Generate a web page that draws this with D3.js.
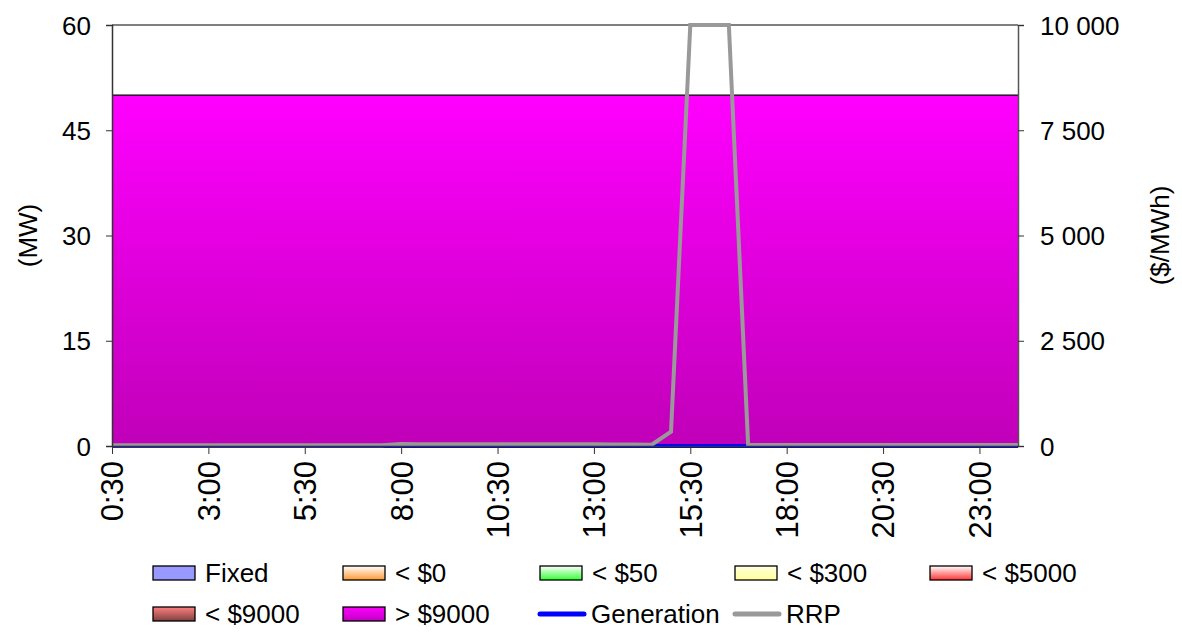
<!DOCTYPE html>
<html><head><meta charset="utf-8">
<script src="https://cdn.jsdelivr.net/npm/d3@7"></script>
<style>
body{margin:0;background:#fff;}
svg{display:block;font-family:"Liberation Sans",Arial,sans-serif;}
</style></head>
<body><svg id="c" width="1182" height="633"></svg>
<script>
const times = ["0:30","1:00","1:30","2:00","2:30","3:00","3:30","4:00","4:30","5:00","5:30","6:00","6:30","7:00","7:30","8:00","8:30","9:00","9:30","10:00","10:30","11:00","11:30","12:00","12:30","13:00","13:30","14:00","14:30","15:00","15:30","16:00","16:30","17:00","17:30","18:00","18:30","19:00","19:30","20:00","20:30","21:00","21:30","22:00","22:30","23:00","23:30","0:00"];
const above9000 = [50,50,50,50,50,50,50,50,50,50,50,50,50,50,50,50,50,50,50,50,50,50,50,50,50,50,50,50,50,50,50,50,50,50,50,50,50,50,50,50,50,50,50,50,50,50,50,50];
const generation = [0,0,0,0,0,0,0,0,0,0,0,0,0,0,0,0,0,0,0,0,0,0,0,0,0,0,0,0,0,0,0,0,0,0,0,0,0,0,0,0,0,0,0,0,0,0,0,0];
const rrp = [15,15,15,15,15,15,15,15,15,15,15,15,15,15,18,45,42,42,40,40,40,40,40,40,40,40,38,35,30,340,10000,10000,10000,25,25,25,25,25,25,25,25,25,25,25,25,25,25,25];
const mwTicks = [0,15,30,45,60];
const priceTicks = [0,2500,5000,7500,10000];
const xTickLabels = ["0:30","3:00","5:30","8:00","10:30","13:00","15:30","18:00","20:30","23:00"];
const legendItems = [
  {name:"Fixed", type:"rect", top:"#9999FF", bottom:"#9999FF"},
  {name:"< $0", type:"rect", top:"#FFFFFF", bottom:"#FF9933"},
  {name:"< $50", type:"rect", top:"#FFFFFF", bottom:"#33FF33"},
  {name:"< $300", type:"rect", top:"#FFFFE0", bottom:"#FFFF99"},
  {name:"< $5000", type:"rect", top:"#FFFFFF", bottom:"#FF3333"},
  {name:"< $9000", type:"rect", top:"#FF8080", bottom:"#804040"},
  {name:"> $9000", type:"rect", top:"#FF00FF", bottom:"#C000C0"},
  {name:"Generation", type:"line", color:"#0000FF"},
  {name:"RRP", type:"line", color:"#999999"}
];

const svg = d3.select("#c");
const L=112, R=1018, T=25, B=446;
const x = d3.scalePoint().domain(times).range([L,R]);
const yL = d3.scaleLinear().domain([0,60]).range([B,T]);
const yR = d3.scaleLinear().domain([0,10000]).range([B,T]);
const fmt = d3.formatLocale({decimal:".",thousands:" ",grouping:[3],currency:["$",""]}).format(",");
const FS = 26, FSX = 31;

const defs = svg.append("defs");
const mainGrad = defs.append("linearGradient").attr("id","gMain").attr("gradientUnits","userSpaceOnUse")
  .attr("x1",0).attr("x2",0).attr("y1",yL(50)).attr("y2",B);
mainGrad.append("stop").attr("offset","0").attr("stop-color","#FF00FF");
mainGrad.append("stop").attr("offset","1").attr("stop-color","#C000B8");
legendItems.forEach((d,i)=>{
  if(d.type!=="rect") return;
  const g = defs.append("linearGradient").attr("id","lg"+i).attr("x1",0).attr("x2",0).attr("y1",0).attr("y2",1);
  g.append("stop").attr("offset","0").attr("stop-color",d.top);
  g.append("stop").attr("offset","1").attr("stop-color",d.bottom);
});

// area
const area = d3.area().x((d,i)=>x(times[i])).y0(B).y1(d=>yL(d));
svg.append("path").datum(above9000).attr("d",area).attr("fill","url(#gMain)");
svg.append("path").datum(above9000).attr("d",d3.line().x((d,i)=>x(times[i])).y(d=>yL(d)))
  .attr("fill","none").attr("stroke","#000").attr("stroke-width",1.2);

// frame top
svg.append("line").attr("x1",L).attr("x2",R).attr("y1",T).attr("y2",T).attr("stroke","#808080").attr("stroke-width",2);

// lines
svg.append("path").datum(generation).attr("d",d3.line().x((d,i)=>x(times[i])).y(d=>yL(d)))
  .attr("fill","none").attr("stroke","#0000FF").attr("stroke-width",4);
svg.append("path").datum(rrp).attr("d",d3.line().x((d,i)=>x(times[i])).y(d=>yR(d)))
  .attr("fill","none").attr("stroke","#999999").attr("stroke-width",4).attr("stroke-linejoin","miter");

// axes
const axL = svg.append("g").attr("transform",`translate(${L},0)`)
  .call(d3.axisLeft(yL).tickValues(mwTicks).tickSize(6).tickPadding(15).tickFormat(d3.format("d")));
const axR = svg.append("g").attr("transform",`translate(${R},0)`)
  .call(d3.axisRight(yR).tickValues(priceTicks).tickSize(6).tickPadding(16).tickFormat(fmt));
const axB = svg.append("g").attr("transform",`translate(0,${B})`)
  .call(d3.axisBottom(x).tickValues(xTickLabels).tickSize(8).tickSizeOuter(0));
[axL,axR,axB].forEach(a=>{
  a.selectAll("text").attr("font-size",FS).attr("font-family","'Liberation Sans',Arial,sans-serif").attr("fill","#000");
  a.selectAll("line").attr("stroke","#333");
  a.select(".domain").attr("stroke","#333").attr("stroke-width",1.5);
});
axR.select(".domain").attr("stroke","#555");
axB.selectAll(".tick text").attr("font-size",FSX).attr("transform","rotate(-90)").attr("text-anchor","end")
  .attr("x",-15).attr("y",0).attr("dy","0.35em");
axL.selectAll(".tick text").attr("dy","0.35em");
axR.selectAll(".tick text").attr("dy","0.35em");

// axis titles
svg.append("text").attr("transform",`translate(37,${(T+B)/2}) rotate(-90)`).attr("text-anchor","middle")
  .attr("font-size",FS).text("(MW)");
svg.append("text").attr("transform",`translate(1169,${(T+B)/2}) rotate(-90)`).attr("text-anchor","middle")
  .attr("font-size",FS).text("($/MWh)");

// legend
const cols=[153,343,540,735,930];
legendItems.forEach((d,i)=>{
  const col = i<5? i : i-5;
  const row = i<5? 0 : 1;
  const gx = cols[col], gy = row===0?573:614;
  const g = svg.append("g");
  if(d.type==="rect"){
    g.append("rect").attr("x",gx).attr("y",gy-7).attr("width",42).attr("height",14)
      .attr("fill","url(#lg"+i+")").attr("stroke","#000").attr("stroke-width",1.3);
    g.append("text").attr("x",gx+52).attr("y",gy).attr("dy","0.35em").attr("font-size",FS).text(d.name);
  } else {
    g.append("line").attr("x1",gx).attr("x2",gx+44).attr("y1",gy).attr("y2",gy)
      .attr("stroke",d.color).attr("stroke-width",5).attr("stroke-linecap","round");
    g.append("text").attr("x",gx+51).attr("y",gy).attr("dy","0.35em").attr("font-size",FS).text(d.name);
  }
});
</script></body></html>
